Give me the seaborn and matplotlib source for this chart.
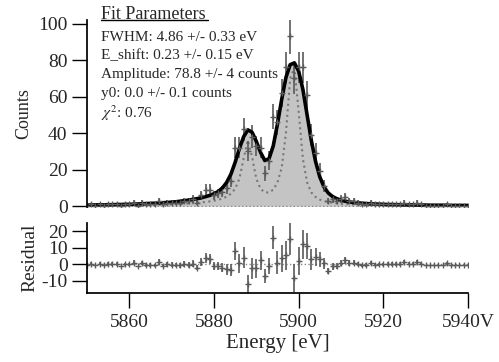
import numpy as np
import matplotlib
matplotlib.use("Agg")
import matplotlib.pyplot as plt
import seaborn as sns

# energy grid of the spectrum (eV)
energy = np.arange(5850, 5941)

# measured counts per bin
counts = [0, 1, 0, 1, 0, 1, 1, 1, 0, 1,
          1, 2, 0, 2, 1, 1, 1, 3, 1, 2,
          2, 2, 2, 3, 3, 4, 2, 6, 9, 9,
          6, 7, 8, 10, 14, 32, 32, 42, 30, 38,
          33, 32, 18, 25, 49, 46, 62, 76, 93, 70,
          76, 76, 61, 39, 29, 19, 11, 3, 4, 3,
          4, 5, 3, 3, 2, 1, 1, 2, 1, 1,
          1, 1, 1, 1, 1, 2, 1, 1, 2, 1,
          0, 0, 0, 0, 0, 1, 0, 0, 0, 0, 0]

# poisson error bars
errors = [0, 1, 0, 1, 0, 1, 1, 1, 0, 1,
          1, 1.4, 0, 1.4, 1, 1, 1, 1.7, 1, 1.4,
          1.4, 1.4, 1.4, 1.7, 1.7, 2, 1.4, 2.4, 3, 3,
          2.4, 2.6, 2.8, 3.2, 3.7, 5.7, 5.7, 6.5, 5.5, 6.2,
          5.7, 5.7, 4.2, 5, 7, 6.8, 7.9, 8.7, 9.6, 8.4,
          8.7, 8.7, 7.8, 6.2, 5.4, 4.4, 3.3, 1.7, 2, 1.7,
          2, 2.2, 1.7, 1.7, 1.4, 1, 1, 1.4, 1, 1,
          1, 1, 1, 1, 1, 1.4, 1, 1, 1.4, 1,
          0, 0, 0, 0, 0, 1, 0, 0, 0, 0, 0]

# fitted spectrum (black line)
fit = [0.6, 0.6, 0.7, 0.7, 0.7, 0.8, 0.8, 0.9, 0.9, 1.0,
       1.0, 1.1, 1.2, 1.3, 1.4, 1.5, 1.6, 1.7, 1.9, 2.0,
       2.2, 2.4, 2.7, 3.0, 3.3, 3.7, 4.1, 4.6, 5.2, 5.9,
       6.8, 8.0, 10.0, 13.0, 17.5, 24.0, 31.5, 38.0, 41.8, 40.5,
       35.5, 29.5, 25.0, 26.0, 33.0, 45.0, 58.5, 70.5, 77.5, 78.5,
       74.0, 64.0, 50.0, 36.0, 24.5, 16.0, 10.5, 7.2, 5.3, 4.1,
       3.3, 2.7, 2.3, 2.0, 1.8, 1.6, 1.4, 1.3, 1.2, 1.1,
       1.0, 0.9, 0.9, 0.8, 0.8, 0.7, 0.7, 0.7, 0.6, 0.6,
       0.6, 0.5, 0.5, 0.5, 0.5, 0.5, 0.4, 0.4, 0.4, 0.4, 0.4]

# natural line shape (dotted)
natural = [0.3, 0.3, 0.3, 0.3, 0.35, 0.35, 0.4, 0.4, 0.4, 0.45,
           0.5, 0.5, 0.55, 0.6, 0.6, 0.65, 0.7, 0.75, 0.8, 0.9,
           1.0, 1.1, 1.2, 1.3, 1.5, 1.6, 1.8, 2.0, 2.3, 2.6,
           3.0, 3.5, 4.2, 5.2, 6.8, 9.5, 15, 26, 36, 27,
           15, 9.5, 7.5, 7.5, 9, 13, 21, 40, 70, 76,
           52, 26, 13, 7.5, 5, 3.6, 2.8, 2.2, 1.8, 1.5,
           1.3, 1.15, 1.0, 0.9, 0.8, 0.75, 0.7, 0.65, 0.6, 0.55,
           0.5, 0.5, 0.45, 0.45, 0.4, 0.4, 0.4, 0.35, 0.35, 0.35,
           0.3, 0.3, 0.3, 0.3, 0.3, 0.25, 0.25, 0.25, 0.25, 0.25, 0.25]

x_ticks = [5860, 5880, 5900, 5920, 5940]
x_labels = ["5860", "5880", "5900", "5920", "5940V"]

fit_lines = ["FWHM: 4.86 +/- 0.33 eV",
             "E_shift: 0.23 +/- 0.15 eV",
             "Amplitude: 78.8 +/- 4 counts",
             "y0: 0.0 +/- 0.1 counts",
             r"$\chi^{2}$: 0.76"]

residual = np.array(counts) - np.array(fit)

sns.set_theme(style="ticks")
plt.rcParams["font.family"] = ["Liberation Serif", "DejaVu Serif"]
plt.rcParams["mathtext.fontset"] = "stix"
plt.rcParams["axes.unicode_minus"] = False

fig = plt.figure(figsize=(4.99, 3.62), dpi=100)
ax1 = fig.add_axes([0.1743, 0.428, 0.7635, 0.5168])
ax2 = fig.add_axes([0.1743, 0.1906, 0.7635, 0.1934])

dark = "#5a5a5a"

# upper panel
ax1.fill_between(energy, fit, 0, color="#c4c4c4", lw=0)
ax1.axhline(0, color="#888888", ls=":", lw=1)
sns.lineplot(x=energy, y=natural, ax=ax1, color="#777777", ls=":", lw=1.5)
ax1.errorbar(energy, counts, yerr=errors, fmt="+", color=dark, ms=4,
             mew=1, elinewidth=1.2, capsize=0)
sns.lineplot(x=energy, y=fit, ax=ax1, color="black", lw=2.6)

ax1.set_xlim(5850, 5940)
ax1.set_ylim(-0.5, 102)
ax1.set_yticks([0, 20, 40, 60, 80, 100])
ax1.set_xticks([])
ax1.set_xlabel("")
ax1.set_ylabel("Counts", fontsize=13, labelpad=4)
for s in ["top", "right", "bottom"]:
    ax1.spines[s].set_visible(False)
ax1.spines["left"].set_color("black")
ax1.tick_params(axis="y", direction="out", length=11, width=1, labelsize=14,
                color="black", pad=3)

ax1.text(0.037, 1.027, "Fit Parameters", transform=ax1.transAxes,
         fontsize=13, va="center", ha="left")
ax1.plot([0.037, 0.318], [1.0, 1.0], transform=ax1.transAxes, color="black",
         lw=1, clip_on=False)
for i, line in enumerate(fit_lines):
    ax1.text(0.037, 0.909 - 0.1015 * i, line, transform=ax1.transAxes,
             fontsize=11, va="center", ha="left")

# residual panel
ax2.axhline(0, color="#888888", ls=":", lw=1)
ax2.errorbar(energy, residual, yerr=errors, fmt="+", color=dark, ms=4,
             mew=1, elinewidth=1.2, capsize=0)
ax2.set_xlim(5850, 5940)
ax2.set_ylim(-17.3, 24.9)
ax2.set_yticks([-10, 0, 10, 20])
ax2.set_xticks(x_ticks)
ax2.set_xticklabels(x_labels)
ax2.set_xlabel("Energy [eV]", fontsize=15, labelpad=2)
ax2.set_ylabel("Residual", fontsize=14, labelpad=2)
for s in ["top", "right"]:
    ax2.spines[s].set_visible(False)
ax2.tick_params(axis="y", direction="out", length=11, width=1, labelsize=14,
                color="black", pad=3)
ax2.tick_params(axis="x", direction="out", length=11, width=1, labelsize=14,
                color="black", pad=4)
for s in ["left", "bottom"]:
    ax2.spines[s].set_color("black")

fig.savefig("out.png", dpi=100)
